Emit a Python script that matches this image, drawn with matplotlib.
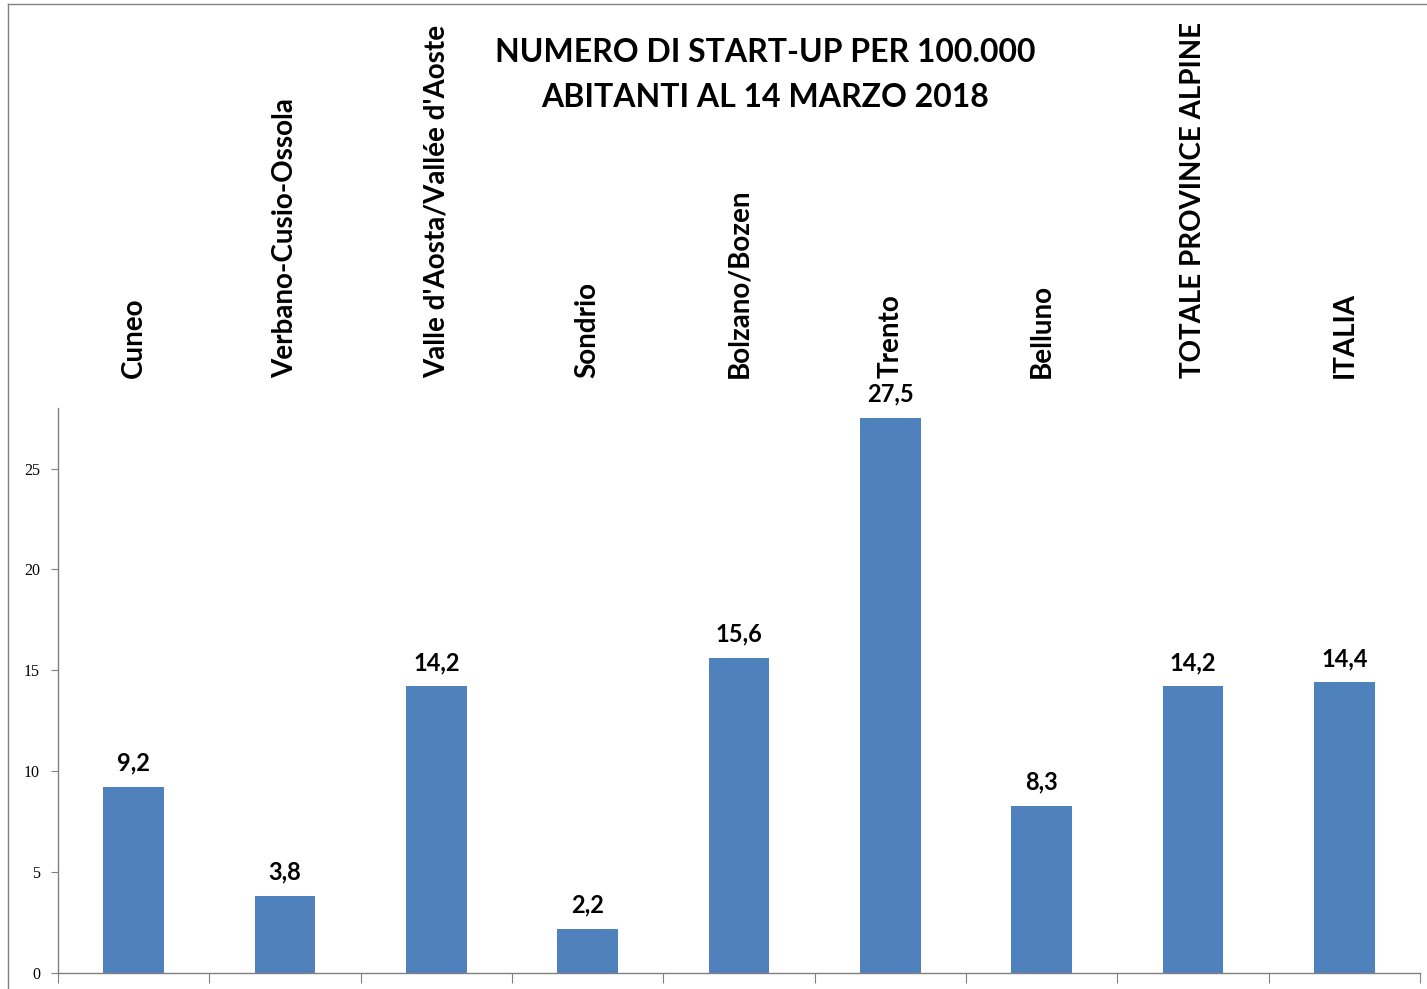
import numpy as np
import matplotlib.pyplot as plt
from matplotlib.lines import Line2D

# Data
categories = ['Cuneo', 'Verbano-Cusio-Ossola', "Valle d'Aosta/Vallée d'Aoste", 'Sondrio',
              'Bolzano/Bozen', 'Trento', 'Belluno', 'TOTALE PROVINCE ALPINE', 'ITALIA']
values = [9.2, 3.8, 14.2, 2.2, 15.6, 27.5, 8.3, 14.2, 14.4]
value_labels = ['9,2', '3,8', '14,2', '2,2', '15,6', '27,5', '8,3', '14,2', '14,4']
yticks = [0, 5, 10, 15, 20, 25]

W, H = 1427, 989
fig = plt.figure(figsize=(W / 100, H / 100), dpi=100)
ax = fig.add_axes([58 / W, 1 - 973 / H, (1420 - 58) / W, (973 - 408) / H])

x = np.arange(len(categories))
ax.bar(x, values, width=0.4, color='#4F81BD')

ax.set_xlim(-0.5, len(categories) - 0.5)
ax.set_ylim(0, 28)
ax.set_yticks(yticks)
ax.set_yticklabels([str(v) for v in yticks], family='Liberation Serif', fontsize=11.5)
ax.set_xticks(np.arange(len(categories) + 1) - 0.5)
ax.set_xticklabels([])
ax.tick_params(axis='x', length=7, color='#808080')
ax.tick_params(axis='y', length=5, color='#808080', pad=8)

for s in ['top', 'right']:
    ax.spines[s].set_visible(False)
for s in ['left', 'bottom']:
    ax.spines[s].set_color('#808080')
    ax.spines[s].set_linewidth(1)

# value labels
for xi, v, lab in zip(x, values, value_labels):
    ax.annotate(lab, (xi, v), xytext=(0, 9), textcoords='offset points',
                ha='center', va='bottom', fontsize=17, fontweight='bold', family='Lato')

# category labels above the plot
for xi, cat in zip(x, categories):
    ax.annotate(cat, (xi, 0), xycoords=('data', 'figure fraction'),
                xytext=(xi, 1 - 378 / H), textcoords=('data', 'figure fraction'),
                rotation=90, ha='center', va='bottom', fontsize=20,
                fontweight='bold', family='Lato')

fig.text(765 / W, 1 - 75 / H, 'NUMERO DI START-UP PER 100.000\nABITANTI AL 14 MARZO 2018',
         ha='center', va='center', fontsize=23, fontweight='bold', family='Lato',
         linespacing=1.7)

# outer frame lines
fig.add_artist(Line2D([8 / W, 8 / W], [0, 1 - 4 / H], transform=fig.transFigure,
                      color='#808080', lw=1))
fig.add_artist(Line2D([8 / W, 1], [1 - 4 / H, 1 - 4 / H], transform=fig.transFigure,
                      color='#808080', lw=1))

fig.savefig('out.png', dpi=100)
